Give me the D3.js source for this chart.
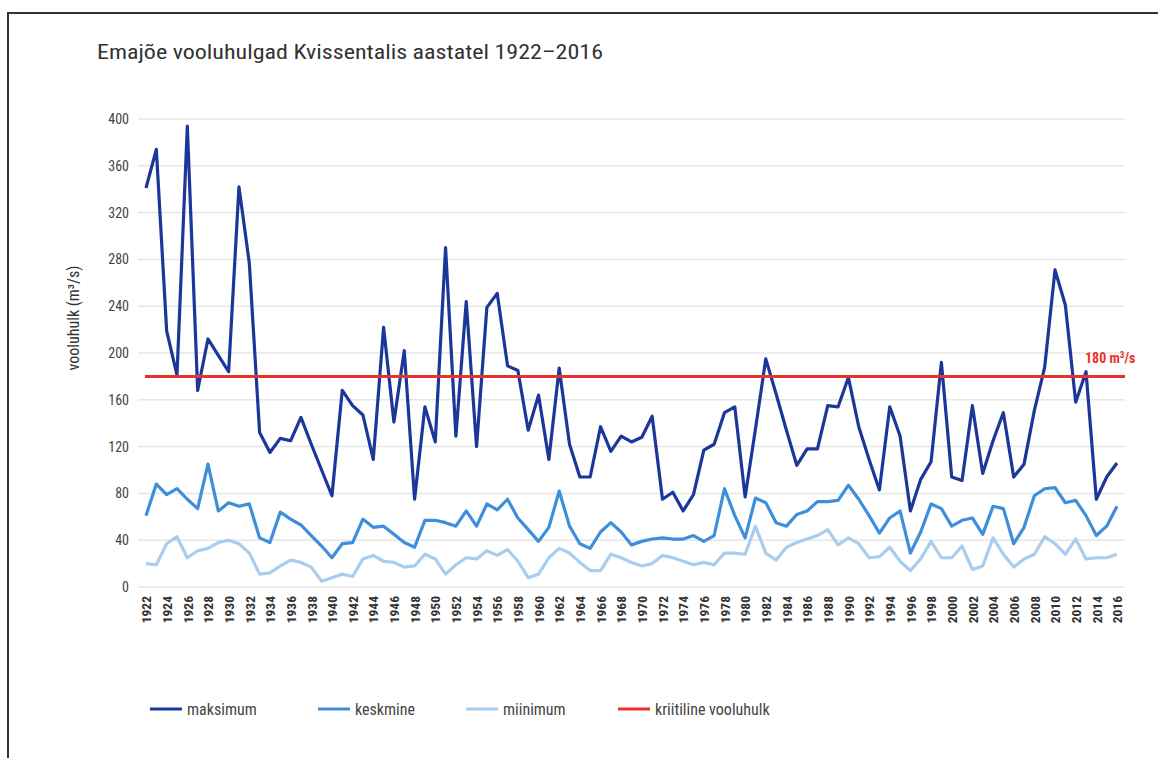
<!DOCTYPE html>
<html>
<head>
<meta charset="utf-8">
<script src="https://cdn.jsdelivr.net/npm/d3@7"></script>
<style>
	body { margin: 0; background: #fff; }
	text { font-family: "Roboto Condensed", "Liberation Sans Narrow", Roboto, sans-serif; }
</style>
</head>
<body>
<script>

	// years on the x axis
	var years = d3.range(1922, 2017);

	// yearly maximum flow (m3/s)
	var maksimum = [
		341, 374, 219, 181, 394, 168, 212, 198, 184, 342,
		277, 132, 115, 127, 125, 145, 122, 100, 78, 168,
		155, 147, 109, 222, 141, 202, 75, 154, 124, 290,
		129, 244, 120, 239, 251, 189, 185, 134, 164, 109,
		187, 122, 94, 94, 137, 116, 129, 124, 128, 146,
		75, 81, 65, 79, 117, 122, 149, 154, 77, 135,
		195, 165, 134, 104, 118, 118, 155, 154, 179, 137,
		109, 83, 154, 129, 65, 92, 107, 192, 94, 91,
		155, 97, 125, 149, 94, 105, 151, 188, 271, 241,
		158, 184, 75, 94, 106
	];

	// yearly mean flow
	var keskmine = [
		61, 88, 79, 84, 75, 67, 105, 65, 72, 69,
		71, 42, 38, 64, 58, 53, 44, 35, 25, 37,
		38, 58, 51, 52, 45, 38, 34, 57, 57, 55,
		52, 65, 52, 71, 66, 75, 59, 49, 39, 51,
		82, 52, 37, 33, 47, 55, 47, 36, 39, 41,
		42, 41, 41, 44, 39, 44, 84, 61, 42, 76,
		72, 55, 52, 62, 65, 73, 73, 74, 87, 75,
		61, 46, 59, 65, 29, 47, 71, 67, 52, 57,
		59, 45, 69, 67, 37, 51, 78, 84, 85, 72,
		74, 61, 44, 52, 69
	];

	// yearly minimum flow
	var miinimum = [
		20, 19, 37, 43, 25, 31, 33, 38, 40, 37,
		29, 11, 12, 18, 23, 21, 17, 5, 8, 11,
		9, 24, 27, 22, 21, 17, 18, 28, 24, 11,
		19, 25, 24, 31, 27, 32, 22, 8, 11, 25,
		33, 29, 21, 14, 14, 28, 25, 21, 18, 20,
		27, 25, 22, 19, 21, 19, 29, 29, 28, 52,
		29, 23, 34, 38, 41, 44, 49, 36, 42, 37,
		25, 26, 34, 22, 14, 24, 39, 25, 25, 35,
		15, 18, 42, 28, 17, 24, 28, 43, 37, 28,
		41, 24, 25, 25, 28
	];

	var kriitiline = 180;
	var yTicks = [0, 40, 80, 120, 160, 200, 240, 280, 320, 360, 400];
	var seriesNames = ["maksimum", "keskmine", "miinimum", "kriitiline vooluhulk"];
	var seriesColors = ["#1c379a", "#3d8fdb", "#a9cdef", "#e8322c"];

	var width = 1158;
	var height = 758;
	var fontStack = "\"Roboto Condensed\", \"Liberation Sans Narrow\", Roboto, sans-serif";

	var svg = d3.select("body")
		.append("svg")
		.attr("width", width)
		.attr("height", height);

	// frame around the chart
	svg.append("rect")
		.attr("x", 8)
		.attr("y", 13)
		.attr("width", 1160)
		.attr("height", 760)
		.style("fill", "none")
		.style("stroke", "#333")
		.style("stroke-width", 2);

	// title
	svg.append("text")
		.attr("x", 97)
		.attr("y", 59)
		.attr("textLength", 506)
		.attr("lengthAdjust", "spacingAndGlyphs")
		.style("font-size", "20px")
		.style("fill", "#333")
		.text("Emajõe vooluhulgad Kvissentalis aastatel 1922–2016");

	var x = d3.scaleLinear()
		.domain([1922, 2016])
		.range([146, 1117]);

	var y = d3.scaleLinear()
		.domain([0, 400])
		.range([587, 119]);

	// horizontal grid
	svg.append("g")
		.selectAll("line")
		.data(yTicks)
		.enter()
		.append("line")
		.attr("x1", 138)
		.attr("x2", 1125)
		.attr("y1", function(d) { return y(d); })
		.attr("y2", function(d) { return y(d); })
		.style("stroke", "#e6e6e6")
		.style("stroke-width", 1.5);

	// y axis labels
	var yAxis = d3.axisLeft(y)
		.tickValues(yTicks)
		.tickSize(0)
		.tickPadding(0);

	var gy = svg.append("g")
		.attr("transform", "translate(129,0)")
		.call(yAxis);
	gy.select(".domain").remove();
	gy.selectAll("text")
		.style("font-size", "14px")
		.style("fill", "#444")
		.style("font-family", fontStack);

	svg.append("text")
		.attr("transform", "translate(79,318) rotate(-90)")
		.attr("text-anchor", "middle")
		.style("font-size", "16px")
		.style("fill", "#333")
		.text("vooluhulk (m³/s)");

	// x axis labels, every second year
	var xAxis = d3.axisBottom(x)
		.tickValues(years.filter(function(d) { return (d - 1922) % 2 == 0; }))
		.tickFormat(d3.format("d"))
		.tickSize(0)
		.tickPadding(0);

	var gx = svg.append("g")
		.attr("transform", "translate(0,596)")
		.call(xAxis);
	gx.select(".domain").remove();
	gx.selectAll("text")
		.attr("transform", "rotate(-90)")
		.attr("x", 0)
		.attr("y", 0)
		.attr("dy", "0.35em")
		.attr("text-anchor", "end")
		.style("font-size", "13.5px")
		.style("font-weight", "bold")
		.style("fill", "#333")
		.style("font-family", fontStack);

	// lines
	var line = d3.line()
		.x(function(d, i) { return x(years[i]); })
		.y(function(d) { return y(d); });

	var data = [miinimum, keskmine, maksimum];
	var colors = [seriesColors[2], seriesColors[1], seriesColors[0]];

	svg.append("g")
		.selectAll("path")
		.data(data)
		.enter()
		.append("path")
		.attr("d", line)
		.style("fill", "none")
		.style("stroke", function(d, i) { return colors[i]; })
		.style("stroke-width", 3.2)
		.style("stroke-linejoin", "round");

	// critical flow line
	svg.append("line")
		.attr("x1", 145)
		.attr("x2", 1125)
		.attr("y1", y(kriitiline))
		.attr("y2", y(kriitiline))
		.style("stroke", seriesColors[3])
		.style("stroke-width", 3);

	var lbl = svg.append("text")
		.attr("x", 1085)
		.attr("y", y(kriitiline) - 13)
		.style("font-size", "14px")
		.style("font-weight", "bold")
		.style("fill", seriesColors[3]);
	lbl.append("tspan").text("180 m");
	lbl.append("tspan").attr("dy", -5).style("font-size", "9px").text("3");
	lbl.append("tspan").attr("dy", 5).text("/s");

	// legend
	var legendX = [150, 318, 466, 618];
	var legend = svg.append("g")
		.selectAll("g")
		.data(seriesNames)
		.enter()
		.append("g")
		.attr("transform", function(d, i) { return "translate(" + legendX[i] + ",709)"; });

	legend.append("line")
		.attr("x1", 0)
		.attr("x2", 32)
		.style("stroke", function(d, i) { return seriesColors[i]; })
		.style("stroke-width", 3);

	legend.append("text")
		.attr("x", 37)
		.attr("dy", "0.35em")
		.style("font-size", "16px")
		.style("fill", "#444")
		.text(function(d) { return d; });

</script>
</body>
</html>
